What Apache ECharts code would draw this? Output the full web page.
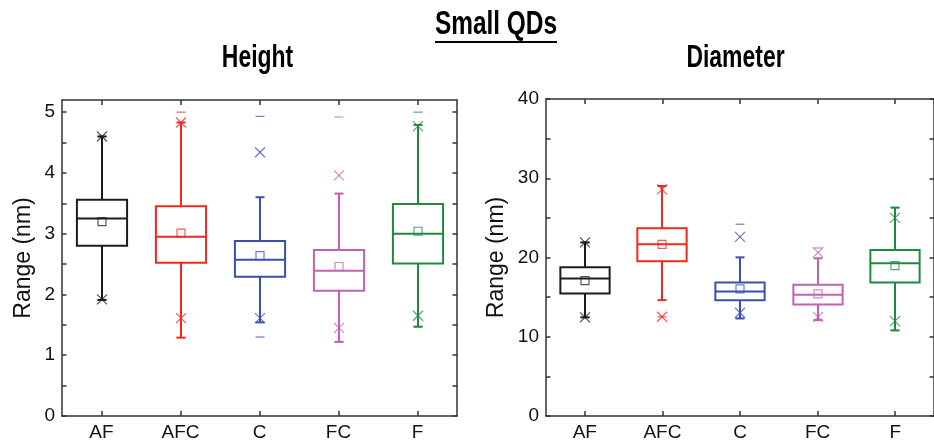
<!DOCTYPE html>
<html>
<head>
<meta charset="utf-8">
<style>
  html, body { margin: 0; padding: 0; background: #fff; }
  #chart { width: 934px; height: 442px; }
</style>
<script src="https://cdn.jsdelivr.net/npm/echarts@6/dist/echarts.min.js"></script>
</head>
<body>
<div id="chart"></div>
<script>
// Sample groups
const categories = ['AF', 'AFC', 'C', 'FC', 'F'];
const groupColors = ['#1c1c1c', '#f2281d', '#3b4fb3', '#c460b3', '#1f8a3c'];

// Height statistics (nm)
const heightQ1 = [2.80, 2.52, 2.29, 2.06, 2.51];
const heightMedian = [3.25, 2.95, 2.57, 2.39, 3.00];
const heightQ3 = [3.56, 3.45, 2.88, 2.73, 3.49];
const heightMean = [3.20, 3.01, 2.64, 2.46, 3.04];
const heightWhiskerLow = [1.91, 1.29, 1.54, 1.22, 1.47];
const heightWhiskerHigh = [4.60, 4.83, 3.60, 3.66, 4.79];
const heightP1 = [1.92, 1.61, 1.61, 1.45, 1.65];
const heightP99 = [4.60, 4.83, 4.34, 3.96, 4.77];
const heightMin = [1.91, 1.29, 1.30, 1.22, 1.47];
const heightMax = [4.60, 5.00, 4.93, 4.92, 5.00];

// Diameter statistics (nm)
const diamQ1 = [15.45, 19.52, 14.62, 14.07, 16.84];
const diamMedian = [17.34, 21.66, 15.71, 15.29, 19.27];
const diamQ3 = [18.77, 23.70, 16.84, 16.55, 20.94];
const diamMean = [17.09, 21.66, 16.04, 15.41, 18.97];
const diamWhiskerLow = [12.44, 14.62, 12.31, 12.10, 10.80];
const diamWhiskerHigh = [21.90, 29.02, 20.02, 19.90, 26.30];
const diamP1 = [12.44, 12.52, 13.03, 12.50, 11.98];
const diamP99 = [21.90, 28.60, 22.60, 20.65, 25.00];
const diamMin = [12.44, 12.52, 12.31, 12.10, 10.80];
const diamMax = [21.90, 29.02, 24.20, 21.20, 26.30];

// Axis ticks
const heightTickLabels = [0, 1, 2, 3, 4, 5];
const heightTickMarks = [0, 0.5, 1, 1.5, 2, 2.5, 3, 3.5, 4, 4.5, 5];
const diamTickLabels = [0, 10, 20, 30, 40];
const diamTickMarks = [0, 5, 10, 15, 20, 25, 30, 35, 40];

function rows(q1, med, q3, mean, wlo, whi, p1, p99, mn, mx) {
  return categories.map((_, i) => [i, q1[i], med[i], q3[i], mean[i], wlo[i], whi[i], p1[i], p99[i], mn[i], mx[i]]);
}

const labelFont = "'Liberation Sans', Arial, sans-serif";
const titleFont = "'Liberation Sans', Arial, sans-serif";
const axisColor = '#333';

// Box, whiskers, mean, 1%/99% crosses and min/max dashes for one group
function renderBox(params, api) {
  const c = api.value(0);
  const x = Math.round(api.coord([c, 0])[0]);
  const y = v => api.coord([c, v])[1];
  const bw = api.size([1, 0])[0] * 0.635;
  const col = groupColors[c];
  const q1 = y(api.value(1)), med = y(api.value(2)), q3 = y(api.value(3));
  const mean = y(api.value(4)), wlo = y(api.value(5)), whi = y(api.value(6));
  const p1 = y(api.value(7)), p99 = y(api.value(8));
  const mn = y(api.value(9)), mx = y(api.value(10));
  const strong = { stroke: col, lineWidth: 2, fill: null };
  const thin = { stroke: col, lineWidth: 1.2, fill: null, opacity: 0.75 };
  const cap = 4.5, xs = 5, sq = 4, dash = 4.5;
  const line = (x1, y1, x2, y2, st) => ({ type: 'line', shape: { x1, y1, x2, y2 }, style: st });
  const children = [
    line(x, q3, x, whi, strong),
    line(x, q1, x, wlo, strong),
    line(x - cap, whi, x + cap, whi, strong),
    line(x - cap, wlo, x + cap, wlo, strong),
    { type: 'rect', shape: { x: x - bw / 2, y: q3, width: bw, height: q1 - q3 }, style: strong },
    line(x - bw / 2, med, x + bw / 2, med, strong),
    { type: 'rect', shape: { x: x - sq, y: mean - sq, width: sq * 2, height: sq * 2 }, style: thin },
    line(x - xs, p1 - xs, x + xs, p1 + xs, thin),
    line(x - xs, p1 + xs, x + xs, p1 - xs, thin),
    line(x - xs, p99 - xs, x + xs, p99 + xs, thin),
    line(x - xs, p99 + xs, x + xs, p99 - xs, thin),
    line(x - dash, mn, x + dash, mn, thin),
    line(x - dash, mx, x + dash, mx, thin)
  ];
  return { type: 'group', children };
}

function catAxis(gridIndex, position) {
  return {
    type: 'category', gridIndex, position, data: categories,
    axisLine: { show: true, onZero: false, lineStyle: { color: axisColor, width: 1.5 } },
    axisTick: { show: true, inside: true, alignWithLabel: true, length: 5, lineStyle: { color: axisColor, width: 1.5 } },
    axisLabel: { show: position === 'bottom', color: '#111', fontSize: 19, fontFamily: labelFont, margin: 7 },
    splitLine: { show: false }
  };
}

function valAxis(gridIndex, position, max, labels, marks, nameGap) {
  const ax = {
    type: 'value', gridIndex, position, min: 0, max,
    axisLine: { show: true, onZero: false, lineStyle: { color: axisColor, width: 1.5 } },
    axisTick: { show: true, inside: true, length: 4.5, customValues: marks, lineStyle: { color: axisColor, width: 1.5 } },
    axisLabel: { show: position === 'left', customValues: labels, color: '#111', fontSize: 19, fontFamily: labelFont, margin: 7 },
    splitLine: { show: false }
  };
  if (position === 'left') {
    ax.name = 'Range (nm)';
    ax.nameLocation = 'middle';
    ax.nameGap = nameGap;
    ax.nameTextStyle = { color: '#111', fontSize: 23, fontFamily: labelFont };
  }
  return ax;
}

// Condensed bold headings
function heading(text, cx, cy, size) {
  return {
    type: 'text', x: cx, y: cy, scaleX: 0.74,
    style: { text, font: 'bold ' + size + 'px ' + titleFont, fill: '#000', align: 'center', verticalAlign: 'middle' }
  };
}

const chart = echarts.init(document.getElementById('chart'), null, { renderer: 'canvas' });
chart.setOption({
  animation: false,
  backgroundColor: '#fff',
  grid: [
    { left: 62, top: 100, width: 395, height: 318 },
    { left: 546, top: 99, width: 395, height: 319 }
  ],
  xAxis: [catAxis(0, 'bottom'), catAxis(0, 'top'), catAxis(1, 'bottom'), catAxis(1, 'top')],
  yAxis: [
    valAxis(0, 'left', 5.2, heightTickLabels, heightTickMarks, 27),
    valAxis(0, 'right', 5.2, heightTickLabels, heightTickMarks, 0),
    valAxis(1, 'left', 40, diamTickLabels, diamTickMarks, 38),
    valAxis(1, 'right', 40, diamTickLabels, diamTickMarks, 0)
  ],
  graphic: [
    heading('Small QDs', 496, 25, 33),
    heading('Height', 257.5, 58, 31),
    heading('Diameter', 735.5, 58, 31),
    { type: 'line', shape: { x1: 435, y1: 42, x2: 557, y2: 42 }, style: { stroke: '#000', lineWidth: 2 } }
  ],
  series: [
    {
      type: 'custom', xAxisIndex: 0, yAxisIndex: 0, renderItem: renderBox,
      data: rows(heightQ1, heightMedian, heightQ3, heightMean, heightWhiskerLow, heightWhiskerHigh, heightP1, heightP99, heightMin, heightMax),
      encode: { x: 0, y: [1, 2, 3, 4, 5, 6, 7, 8, 9, 10] }, clip: false
    },
    {
      type: 'custom', xAxisIndex: 2, yAxisIndex: 2, renderItem: renderBox,
      data: rows(diamQ1, diamMedian, diamQ3, diamMean, diamWhiskerLow, diamWhiskerHigh, diamP1, diamP99, diamMin, diamMax),
      encode: { x: 0, y: [1, 2, 3, 4, 5, 6, 7, 8, 9, 10] }, clip: false
    }
  ]
});
</script>
</body>
</html>
